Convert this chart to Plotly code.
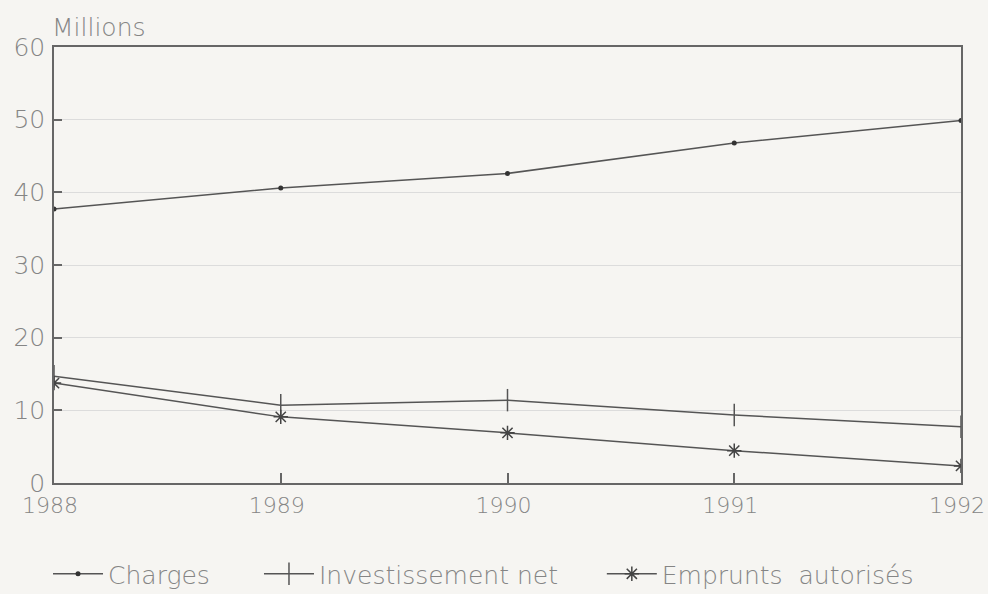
import plotly.graph_objects as go

years = [1988, 1989, 1990, 1991, 1992]
charges = [37.7, 40.6, 42.6, 46.8, 49.9]
investissement_net = [14.7, 10.7, 11.4, 9.35, 7.75]
emprunts_autorises = [13.75, 9.1, 6.9, 4.45, 2.35]
y_ticks = [0, 10, 20, 30, 40, 50, 60]

line_col = "#555555"
text_col = "#858585"
bg = "#f6f5f2"
font_family = "DejaVu Sans, Liberation Sans, sans-serif"

fig = go.Figure()
fig.add_trace(go.Scatter(x=years, y=charges, name="Charges", mode="lines+markers",
                         line=dict(color=line_col, width=1.5), legend="legend",
                         marker=dict(symbol="circle", size=5, color="#333333")))
fig.add_trace(go.Scatter(x=years, y=investissement_net, name="Investissement net", mode="lines+markers",
                         line=dict(color=line_col, width=1.5), legend="legend2",
                         marker=dict(symbol="line-ns", size=16, line=dict(color=line_col, width=1.5))))
fig.add_trace(go.Scatter(x=years, y=emprunts_autorises, name="Emprunts  autorisés", mode="lines+markers",
                         line=dict(color=line_col, width=1.5), legend="legend3",
                         marker=dict(symbol="asterisk", size=12, line=dict(color="#444444", width=1.5))))

leg_common = dict(orientation="h", y=-0.156, yanchor="top", xanchor="left",
                  font=dict(size=25, color=text_col, family=font_family, weight=300),
                  bgcolor="rgba(0,0,0,0)", itemwidth=50)

fig.update_layout(
    width=988, height=594,
    margin=dict(l=54, r=27, t=47, b=111, autoexpand=False),
    paper_bgcolor=bg, plot_bgcolor=bg,
    font=dict(family=font_family, color=text_col, size=20, weight=300),
    showlegend=True,
    legend=dict(x=-0.0066, **leg_common),
    legend2=dict(x=0.226, **leg_common),
    legend3=dict(x=0.604, **leg_common),
    xaxis=dict(range=[1988, 1992], tickvals=years, ticktext=[str(y) for y in years],
               showgrid=False, zeroline=False, showline=True, linecolor="#666666", linewidth=1.5,
               mirror=True, ticks="inside", ticklen=10, tickcolor="#666666", tickwidth=1.5,
               tickfont=dict(size=22, color=text_col, family=font_family, weight=300),
               ticklabelstandoff=2, ticklabelshift=-4, automargin=False),
    yaxis=dict(range=[0, 60], tickvals=y_ticks, ticktext=[str(v) for v in y_ticks],
               showgrid=True, gridcolor="#dcdcdc", gridwidth=1, zeroline=False,
               showline=True, linecolor="#666666", linewidth=1.5, mirror=True,
               ticks="inside", ticklen=8, tickcolor="#666666", tickwidth=1.5,
               tickfont=dict(size=25, color=text_col, family=font_family, weight=300),
               ticklabelstandoff=2, automargin=False),
    annotations=[dict(text="Millions", x=0, y=1, xref="paper", yref="paper",
                      xanchor="left", yanchor="bottom", yshift=3, xshift=-4, showarrow=False,
                      font=dict(size=25, color=text_col, family=font_family, weight=300))],
)

fig.write_html("out.html", config={"displayModeBar": False},
               post_script="document.body.style.margin='0';document.body.style.overflow='hidden';")
